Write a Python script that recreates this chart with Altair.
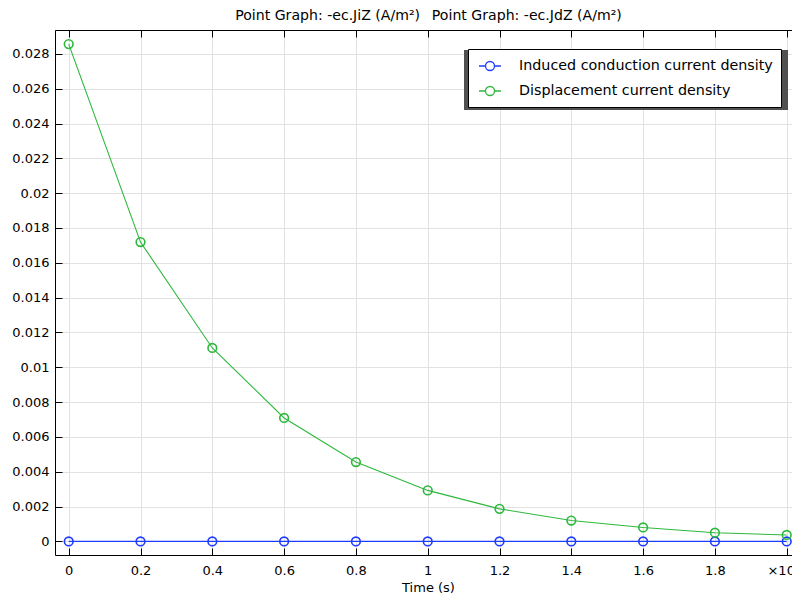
import altair as alt
import pandas as pd

# ---- data ----
time_s = [0.0, 0.2, 0.4, 0.6, 0.8, 1.0, 1.2, 1.4, 1.6, 1.8, 2.0]
induced = [0.0, 0.0, 0.0, 0.0, 0.0, 0.0, 0.0, 0.0, 0.0, 0.0, 0.0]
displacement = [0.02856, 0.01719, 0.01111, 0.00709, 0.00456, 0.00293,
                0.00187, 0.00120, 0.00080, 0.00050, 0.00037]
series_names = ["Induced conduction current density", "Displacement current density"]
series_colors = ["#1e3cff", "#2db83d"]
x_ticks = [0.0, 0.2, 0.4, 0.6, 0.8, 1.0, 1.2, 1.4, 1.6, 1.8, 2.0]
y_ticks = [0.0, 0.002, 0.004, 0.006, 0.008, 0.01, 0.012, 0.014,
           0.016, 0.018, 0.02, 0.022, 0.024, 0.026, 0.028]
chart_title = "Point Graph: -ec.JiZ (A/m²)\u00a0\u00a0\u2009Point Graph: -ec.JdZ (A/m²)"
x_title = "Time (s)"
x_multiplier = "×10⁻⁷"

df = pd.DataFrame({
    "time": time_s + time_s,
    "value": induced + displacement,
    "series": [series_names[0]] * len(time_s) + [series_names[1]] * len(time_s),
})

FONT = "DejaVu Sans"
PLOT_W = 746  # x range of the frame (part of it lies beyond the window edge)
xs = alt.Scale(domain=[-0.0382, 2.0398], range=[0, PLOT_W], nice=False, zero=False)
ys = alt.Scale(domain=[-0.00078, 0.02937], nice=False, zero=False)

legend_symbol = ("M-1.375,0L-0.5625,0M0.5625,0L1.375,0"
                 "M0.5625,0A0.5625,0.5625,0,1,1,-0.5625,0A0.5625,0.5625,0,1,1,0.5625,0")

color_enc = alt.Color(
    "series:N",
    scale=alt.Scale(domain=series_names, range=series_colors),
    legend=alt.Legend(
        title=None, orient="none", legendX=413, legendY=19,
        strokeColor="black", fillColor="white", padding=8,
        symbolType=legend_symbol, symbolSize=256, symbolStrokeWidth=1.3,
        symbolFillColor="transparent", symbolOpacity=1, symbolOffset=5,
        rowPadding=8, labelOffset=20, labelFont=FONT, labelFontSize=14.3,
        labelColor="black", labelLimit=400,
    ),
)

x_label_expr = f"datum.value > 1.99 ? '{x_multiplier}' : format(datum.value, '~g')"

base = alt.Chart(df)

# grid + bottom/left frame
lines = base.mark_line(strokeWidth=1.1).encode(
    x=alt.X("time:Q", scale=xs,
            axis=alt.Axis(orient="bottom", values=x_ticks, grid=True, gridColor="#e2e2e2",
                          ticks=False, labels=False, domain=True, domainColor="black",
                          title=None)),
    y=alt.Y("value:Q", scale=ys,
            axis=alt.Axis(orient="left", values=y_ticks, grid=True, gridColor="#e2e2e2",
                          ticks=False, labels=False, domain=True, domainColor="black",
                          title=None)),
    color=color_enc,
)

# labelled axes with inward ticks
points = base.mark_point(shape="circle", filled=False, size=75, strokeWidth=1.6,
                         opacity=1).encode(
    x=alt.X("time:Q", scale=xs,
            axis=alt.Axis(orient="bottom", values=x_ticks, grid=False, domain=False,
                          offset=-7, tickSize=7, tickColor="black", labelExpr=x_label_expr,
                          labelFont=FONT, labelFontSize=13, labelColor="black",
                          labelPadding=9, labelFlush=False, labelOverlap=False,
                          title=x_title, titleFont=FONT, titleFontSize=13,
                          titleFontWeight="normal", titleColor="black", titlePadding=4)),
    y=alt.Y("value:Q", scale=ys,
            axis=alt.Axis(orient="left", values=y_ticks, grid=False, domain=False,
                          offset=-7, tickSize=7, tickColor="black",
                          labelExpr="format(datum.value, '~g')",
                          labelFont=FONT, labelFontSize=13, labelColor="black",
                          labelPadding=6, labelFlush=False, labelOverlap=False, title=None)),
    color=color_enc,
)

# mirrored inward ticks on top and right
mirror = base.mark_point(opacity=0).encode(
    x=alt.X("time:Q", scale=xs,
            axis=alt.Axis(orient="top", values=x_ticks, grid=False, domain=False,
                          offset=-7, tickSize=7, tickColor="black", labels=False, title=None)),
    y=alt.Y("value:Q", scale=ys,
            axis=alt.Axis(orient="right", values=y_ticks, grid=False, domain=False,
                          offset=2, tickSize=7, tickColor="black", labels=False, title=None)),
)

# top/right frame
frame = base.mark_point(opacity=0).encode(
    x=alt.X("time:Q", scale=xs,
            axis=alt.Axis(orient="top", values=x_ticks, grid=False, domain=True,
                          domainColor="black", ticks=False, labels=False, title=None)),
    y=alt.Y("value:Q", scale=ys,
            axis=alt.Axis(orient="right", values=y_ticks, grid=False, domain=True,
                          domainColor="black", offset=9, ticks=False, labels=False,
                          title=None)),
)

# legend drop shadow
shadow = alt.Chart(pd.DataFrame({"k": [0]})).mark_rect(color="#505050").encode(
    x=alt.value(409), x2=alt.value(733), y=alt.value(20), y2=alt.value(80)
)

chart = alt.layer(lines, shadow, points, mirror, frame).resolve_axis(
    x="independent", y="independent"
).properties(
    width=737, height=525,
    title=alt.TitleParams(chart_title, font=FONT, fontSize=14.1, fontWeight="normal",
                          color="black", anchor="middle", offset=6, dx=5),
    autosize=alt.AutoSizeParams(type="none"),
    padding={"left": 47, "top": 22, "right": 0, "bottom": 40},
).configure_view(strokeWidth=0).configure(background="white")

chart.save("out.html", embed_options={"renderer": "svg", "actions": False})
